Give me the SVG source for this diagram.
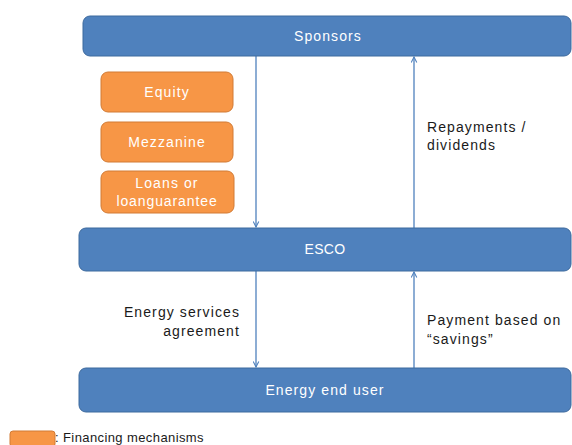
<svg xmlns="http://www.w3.org/2000/svg" width="572" height="445" viewBox="0 0 572 445">
<style>
.blue{fill:#4F81BD;stroke:#3D6A9E;stroke-width:1}
.orange{fill:#F79646;stroke:#D27B35;stroke-width:1}
.t{font-family:"Liberation Sans","Open Sans",sans-serif;font-size:14px;letter-spacing:1.1px}
.w{fill:#FFFFFF}
.k{fill:#1a1a1a}
.c{stroke:#4F81BD;stroke-width:1.3;fill:none}
</style>
<defs>
<marker id="ah" viewBox="0 0 10 10" refX="9" refY="5" markerWidth="7" markerHeight="7" orient="auto" markerUnits="userSpaceOnUse">
<path d="M1,1 L9,5 L1,9" fill="none" stroke="#4F81BD" stroke-width="1.5"/>
</marker>
</defs>
<g id="connectors">
<line class="c" x1="256" y1="56" x2="256" y2="227" marker-end="url(#ah)"/>
<line class="c" x1="414" y1="228" x2="414" y2="57" marker-end="url(#ah)"/>
<line class="c" x1="256" y1="271" x2="256" y2="367" marker-end="url(#ah)"/>
<line class="c" x1="414" y1="368" x2="414" y2="272" marker-end="url(#ah)"/>
<text class="t k" x="427" y="132">Repayments /</text>
<text class="t k" x="427" y="150">dividends</text>
<text class="t k" x="240" y="317" text-anchor="end">Energy services</text>
<text class="t k" x="240" y="336" text-anchor="end">agreement</text>
<text class="t k" x="427" y="325">Payment based on</text>
<text class="t k" x="427" y="344">“savings”</text>
</g>
<g id="sponsors">
<rect class="blue" x="83" y="16" width="488" height="40" rx="7"/>
<text class="t w" x="328" y="41" text-anchor="middle">Sponsors</text>
</g>
<g id="equity">
<rect class="orange" x="101" y="72" width="132" height="40" rx="7"/>
<text class="t w" x="167" y="97" text-anchor="middle">Equity</text>
</g>
<g id="mezzanine">
<rect class="orange" x="101" y="122" width="132" height="40" rx="7"/>
<text class="t w" x="167" y="147" text-anchor="middle">Mezzanine</text>
</g>
<g id="loans">
<rect class="orange" x="101" y="171" width="133" height="42" rx="7"/>
<text class="t w" x="167" y="188" text-anchor="middle">Loans or</text>
<text class="t w" x="167" y="206" text-anchor="middle" style="letter-spacing:0.9px">loanguarantee</text>
</g>
<g id="esco">
<rect class="blue" x="79" y="228" width="492" height="43" rx="7"/>
<text class="t w" x="325" y="254" text-anchor="middle" style="letter-spacing:0.3px">ESCO</text>
</g>
<g id="enduser">
<rect class="blue" x="79" y="368" width="492" height="44" rx="7"/>
<text class="t w" x="325" y="395" text-anchor="middle">Energy end user</text>
</g>
<g id="legend">
<rect class="orange" x="10" y="431" width="45" height="16" rx="3"/>
<text class="t k" x="55" y="442" style="font-size:13px;letter-spacing:0.4px">: Financing mechanisms</text>
</g>
</svg>
